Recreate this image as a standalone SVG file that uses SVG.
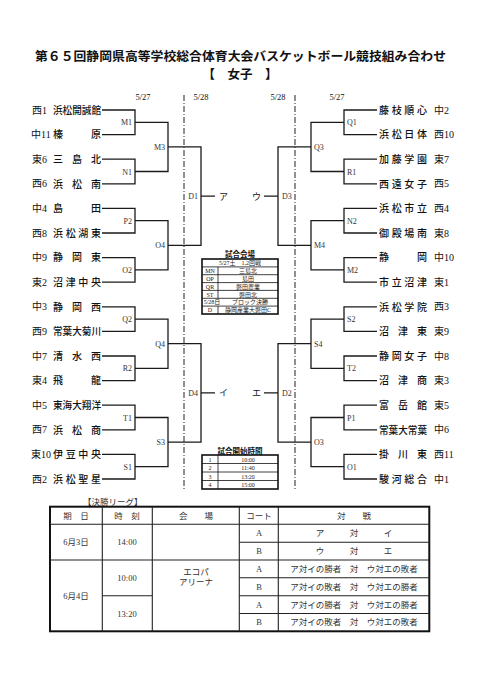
<svg xmlns="http://www.w3.org/2000/svg" width="481" height="680" viewBox="0 0 481 680">
<style>
text{font-family:"Liberation Serif","Noto Sans CJK JP",serif;fill:#111}
.title{font-family:"Noto Sans CJK JP",sans-serif;font-size:12.5px;font-weight:bold}
.date{font-size:8.5px;text-anchor:middle}
.nm{font-family:"Noto Sans CJK JP",sans-serif;font-size:10px;font-weight:500}
.pf{font-family:"Liberation Serif","Noto Sans CJK JP",serif;font-size:10px}
.lb{font-family:"Liberation Serif",serif;font-size:8px;fill:#333}
.le{text-anchor:end}
.kk{font-family:"Noto Sans CJK JP",sans-serif;font-size:9px}
.t6{font-family:"Liberation Serif","Noto Sans CJK JP",serif;font-size:6px;text-anchor:middle;fill:#222}
.tt{font-family:"Noto Sans CJK JP",sans-serif;font-size:7.5px;font-weight:bold;text-anchor:middle}
.t8{font-family:"Liberation Serif","Noto Sans CJK JP",serif;font-size:8.5px;text-anchor:middle;fill:#333}
.br{fill:none;stroke:#1a1a1a;stroke-width:1.3}
.dash{stroke:#222;stroke-width:1;stroke-dasharray:6 2 1 2;fill:none}
.tb{fill:none;stroke:#111;stroke-width:1.6}
.tl{fill:none;stroke:#111;stroke-width:0.8}
.fb{fill:none;stroke:#111;stroke-width:2}
.fl{fill:none;stroke:#222;stroke-width:1.1}
</style>

<g id="title">
<text class="title" x="35" y="61" textLength="411" lengthAdjust="spacingAndGlyphs">第６５回静岡県高等学校総合体育大会バスケットボール競技組み合わせ</text>
<text class="title" x="240" y="78.5" text-anchor="middle">【　女子　】</text>
</g>

<g id="dates">
<text class="date" x="143" y="100">5/27</text>
<text class="date" x="201" y="100">5/28</text>
<text class="date" x="278" y="100">5/28</text>
<text class="date" x="337" y="100">5/27</text>
</g>

<g id="day-dividers">
<line class="dash" x1="184" y1="95" x2="184" y2="489"/>
<line class="dash" x1="295" y1="95" x2="295" y2="489"/>
</g>

<g id="connectors">
<path class="br" d="M102,110H135V134.6H102M102,159.2H135V183.8H102M102,208.4H135V233H102M102,257.6H135V282.2H102M102,306.8H135V331.4H102M102,356H135V380.6H102M102,405.2H135V429.8H102M102,454.4H135V479H102"/>
<path class="br" d="M135,122.3H168V171.5H135M135,220.7H168V269.9H135M135,319.1H168V368.3H135M135,417.5H168V466.7H135"/>
<path class="br" d="M168,146.9H201V245.3H168M168,343.7H201V442.1H168"/>
<path class="br" d="M201,196.1H215M201,392.9H215"/>
<path class="br" d="M377,110H344V134.6H377M377,159.2H344V183.8H377M377,208.4H344V233H377M377,257.6H344V282.2H377M377,306.8H344V331.4H377M377,356H344V380.6H377M377,405.2H344V429.8H377M377,454.4H344V479H377"/>
<path class="br" d="M344,122.3H311V171.5H344M344,220.7H311V269.9H344M344,319.1H311V368.3H344M344,417.5H311V466.7H344"/>
<path class="br" d="M311,146.9H278V245.3H311M311,343.7H278V442.1H311"/>
<path class="br" d="M278,196.1H264M278,392.9H264"/>
</g>

<g id="left-teams">
<g id="L01"><text class="pf" x="32" y="113.5">西1</text><text class="nm" x="53" y="113.7" textLength="48" lengthAdjust="spacingAndGlyphs">浜松開誠館</text></g>
<g id="L02"><text class="pf" x="31" y="138.1">中11</text><text class="nm" x="53" y="138.3" textLength="48" lengthAdjust="spacing">榛原</text></g>
<g id="L03"><text class="pf" x="32" y="162.7">東6</text><text class="nm" x="53" y="162.9" textLength="48" lengthAdjust="spacing">三島北</text></g>
<g id="L04"><text class="pf" x="32" y="187.3">西6</text><text class="nm" x="53" y="187.5" textLength="48" lengthAdjust="spacing">浜松南</text></g>
<g id="L05"><text class="pf" x="32" y="211.9">中4</text><text class="nm" x="53" y="212.1" textLength="48" lengthAdjust="spacing">島田</text></g>
<g id="L06"><text class="pf" x="32" y="236.5">西8</text><text class="nm" x="53" y="236.7" textLength="48" lengthAdjust="spacing">浜松湖東</text></g>
<g id="L07"><text class="pf" x="32" y="261.1">中9</text><text class="nm" x="53" y="261.3" textLength="48" lengthAdjust="spacing">静岡東</text></g>
<g id="L08"><text class="pf" x="32" y="285.7">東2</text><text class="nm" x="53" y="285.9" textLength="48" lengthAdjust="spacing">沼津中央</text></g>
<g id="L09"><text class="pf" x="32" y="310.3">中3</text><text class="nm" x="53" y="310.5" textLength="48" lengthAdjust="spacing">静岡西</text></g>
<g id="L10"><text class="pf" x="32" y="334.9">西9</text><text class="nm" x="53" y="335.1" textLength="48" lengthAdjust="spacingAndGlyphs">常葉大菊川</text></g>
<g id="L11"><text class="pf" x="32" y="359.5">中7</text><text class="nm" x="53" y="359.7" textLength="48" lengthAdjust="spacing">清水西</text></g>
<g id="L12"><text class="pf" x="32" y="384.1">東4</text><text class="nm" x="53" y="384.3" textLength="48" lengthAdjust="spacing">飛龍</text></g>
<g id="L13"><text class="pf" x="32" y="408.7">中5</text><text class="nm" x="53" y="408.9" textLength="48" lengthAdjust="spacingAndGlyphs">東海大翔洋</text></g>
<g id="L14"><text class="pf" x="32" y="433.3">西7</text><text class="nm" x="53" y="433.5" textLength="48" lengthAdjust="spacing">浜松商</text></g>
<g id="L15"><text class="pf" x="31" y="457.9">東10</text><text class="nm" x="53" y="458.1" textLength="48" lengthAdjust="spacing">伊豆中央</text></g>
<g id="L16"><text class="pf" x="32" y="482.5">西2</text><text class="nm" x="53" y="482.7" textLength="48" lengthAdjust="spacing">浜松聖星</text></g>
</g>

<g id="right-teams">
<g id="R01"><text class="nm" x="379" y="113.7" textLength="48" lengthAdjust="spacing">藤枝順心</text><text class="pf" x="434" y="113.5">中2</text></g>
<g id="R02"><text class="nm" x="379" y="138.3" textLength="48" lengthAdjust="spacing">浜松日体</text><text class="pf" x="434" y="138.1">西10</text></g>
<g id="R03"><text class="nm" x="379" y="162.9" textLength="48" lengthAdjust="spacing">加藤学園</text><text class="pf" x="434" y="162.7">東7</text></g>
<g id="R04"><text class="nm" x="379" y="187.5" textLength="48" lengthAdjust="spacing">西遠女子</text><text class="pf" x="434" y="187.3">西5</text></g>
<g id="R05"><text class="nm" x="379" y="212.1" textLength="48" lengthAdjust="spacing">浜松市立</text><text class="pf" x="434" y="211.9">西4</text></g>
<g id="R06"><text class="nm" x="379" y="236.7" textLength="48" lengthAdjust="spacing">御殿場南</text><text class="pf" x="434" y="236.5">東8</text></g>
<g id="R07"><text class="nm" x="379" y="261.3" textLength="48" lengthAdjust="spacing">静岡</text><text class="pf" x="434" y="261.1">中10</text></g>
<g id="R08"><text class="nm" x="379" y="285.9" textLength="48" lengthAdjust="spacing">市立沼津</text><text class="pf" x="434" y="285.7">東1</text></g>
<g id="R09"><text class="nm" x="379" y="310.5" textLength="48" lengthAdjust="spacing">浜松学院</text><text class="pf" x="434" y="310.3">西3</text></g>
<g id="R10"><text class="nm" x="379" y="335.1" textLength="48" lengthAdjust="spacing">沼津東</text><text class="pf" x="434" y="334.9">東9</text></g>
<g id="R11"><text class="nm" x="379" y="359.7" textLength="48" lengthAdjust="spacing">静岡女子</text><text class="pf" x="434" y="359.5">中8</text></g>
<g id="R12"><text class="nm" x="379" y="384.3" textLength="48" lengthAdjust="spacing">沼津商</text><text class="pf" x="434" y="384.1">東3</text></g>
<g id="R13"><text class="nm" x="379" y="408.9" textLength="48" lengthAdjust="spacing">富岳館</text><text class="pf" x="434" y="408.7">東5</text></g>
<g id="R14"><text class="nm" x="379" y="433.5" textLength="48" lengthAdjust="spacingAndGlyphs">常葉大常葉</text><text class="pf" x="434" y="433.3">中6</text></g>
<g id="R15"><text class="nm" x="379" y="458.1" textLength="48" lengthAdjust="spacing">掛川東</text><text class="pf" x="434" y="457.9">西11</text></g>
<g id="R16"><text class="nm" x="379" y="482.7" textLength="48" lengthAdjust="spacing">駿河総合</text><text class="pf" x="434" y="482.5">中1</text></g>
</g>

<g id="left-matches">
<text id="M1" class="lb le" x="132" y="125.3">M1</text>
<text id="N1" class="lb le" x="132" y="174.5">N1</text>
<text id="P2" class="lb le" x="132" y="223.7">P2</text>
<text id="O2" class="lb le" x="132" y="272.9">O2</text>
<text id="Q2" class="lb le" x="132" y="322.1">Q2</text>
<text id="R2" class="lb le" x="132" y="371.3">R2</text>
<text id="T1" class="lb le" x="132" y="420.5">T1</text>
<text id="S1" class="lb le" x="132" y="469.7">S1</text>
<text id="M3" class="lb le" x="165" y="149.9">M3</text>
<text id="O4" class="lb le" x="165" y="248.3">O4</text>
<text id="Q4" class="lb le" x="165" y="346.7">Q4</text>
<text id="S3" class="lb le" x="165" y="445.1">S3</text>
<text id="D1" class="lb le" x="198" y="199.1">D1</text>
<text id="D4" class="lb le" x="198" y="395.9">D4</text>
</g>

<g id="right-matches">
<text id="Q1" class="lb" x="347" y="125.3">Q1</text>
<text id="R1" class="lb" x="347" y="174.5">R1</text>
<text id="N2" class="lb" x="347" y="223.7">N2</text>
<text id="M2" class="lb" x="347" y="272.9">M2</text>
<text id="S2" class="lb" x="347" y="322.1">S2</text>
<text id="T2" class="lb" x="347" y="371.3">T2</text>
<text id="P1" class="lb" x="347" y="420.5">P1</text>
<text id="O1" class="lb" x="347" y="469.7">O1</text>
<text id="Q3" class="lb" x="314" y="149.9">Q3</text>
<text id="M4" class="lb" x="314" y="248.3">M4</text>
<text id="S4" class="lb" x="314" y="346.7">S4</text>
<text id="O3" class="lb" x="314" y="445.1">O3</text>
<text id="D3" class="lb" x="282" y="199.1">D3</text>
<text id="D2" class="lb" x="282" y="395.9">D2</text>
</g>

<g id="block-winners">
<text id="a" class="kk" x="219" y="199.5">ア</text>
<text id="i" class="kk" x="219" y="396.3">イ</text>
<text id="u" class="kk" x="252" y="199.5">ウ</text>
<text id="e" class="kk" x="252" y="396.3">エ</text>
</g>

<g id="venue-table">
<text class="tt" x="240" y="257">試合会場</text>
<rect class="tb" x="202" y="259" width="76" height="55"/>
<path class="tl" d="M202,266.9H278M202,274.7H278M202,282.6H278M202,290.4H278M202,298.3H278M202,306.1H278M218,266.9V298.3M218,306.1V314"/>
<text class="t6" x="240" y="265">5/27土　1,2回戦</text>
<text class="t6" x="210" y="272.9">MN</text><text class="t6" x="248" y="272.9">三島北</text>
<text class="t6" x="210" y="280.8">OP</text><text class="t6" x="248" y="280.8">島田</text>
<text class="t6" x="210" y="288.6">QR</text><text class="t6" x="248" y="288.6">磐田農業</text>
<text class="t6" x="210" y="296.5">ST</text><text class="t6" x="248" y="296.5">磐田北</text>
<text class="t6" x="212" y="304.3">5/28日</text><text class="t6" x="250" y="304.3">ブロック決勝</text>
<text class="t6" x="210" y="312.2">D</text><text class="t6" x="248" y="312.2">静岡産業大磐田C</text>
</g>

<g id="time-table">
<text class="tt" x="240" y="453.5">試合開始時間</text>
<rect class="tb" x="202" y="455" width="76" height="34"/>
<path class="tl" d="M202,463.5H278M202,472H278M202,480.5H278M218,455V489"/>
<text class="t6" x="210" y="461.5">1</text><text class="t6" x="248" y="461.5">10:00</text>
<text class="t6" x="210" y="470">2</text><text class="t6" x="248" y="470">11:40</text>
<text class="t6" x="210" y="478.5">3</text><text class="t6" x="248" y="478.5">13:20</text>
<text class="t6" x="210" y="487">4</text><text class="t6" x="248" y="487">15:00</text>
</g>

<g id="final-league">
<text class="kk" x="83" y="505" style="font-size:8.5px;fill:#333">【決勝リーグ】</text>
<rect class="fb" x="50" y="506.7" width="379.3" height="124.6"/>
<path class="fl" d="M102.3,506.7V631.3M152.3,506.7V631.3M239.3,506.7V631.3M278.3,506.7V631.3"/>
<path class="fl" d="M50,524.3H429.3M50,560H239.3M102.3,595.7H152.3M239.3,542.2H429.3M239.3,560H429.3M239.3,577.8H429.3M239.3,595.7H429.3M239.3,613.5H429.3"/>
<text class="t8" x="76" y="518.5">期　日</text>
<text class="t8" x="127" y="518.5">時　刻</text>
<text class="t8" x="196" y="518.5">会　　場</text>
<text class="t8" x="259" y="518.5">コート</text>
<text class="t8" x="354" y="518.5">対　　戦</text>
<text class="t8" x="76" y="545">6月3日</text>
<text class="t8" x="127" y="545">14:00</text>
<text class="t8" x="76" y="598.7">6月4日</text>
<text class="t8" x="127" y="580.8">10:00</text>
<text class="t8" x="127" y="616.5">13:20</text>
<text class="t8" x="196" y="574.5">エコパ</text>
<text class="t8" x="196" y="584.5">アリーナ</text>
<text class="t8" x="259" y="536.2">A</text>
<text class="t8" x="259" y="554">B</text>
<text class="t8" x="259" y="571.8">A</text>
<text class="t8" x="259" y="589.7">B</text>
<text class="t8" x="259" y="607.5">A</text>
<text class="t8" x="259" y="625.3">B</text>
<text class="t8" x="354" y="536.2">ア　　　対　　　イ</text>
<text class="t8" x="354" y="554">ウ　　　対　　　エ</text>
<text class="t8" x="354" y="571.8">ア対イの勝者　対　ウ対エの敗者</text>
<text class="t8" x="354" y="589.7">ア対イの敗者　対　ウ対エの勝者</text>
<text class="t8" x="354" y="607.5">ア対イの勝者　対　ウ対エの勝者</text>
<text class="t8" x="354" y="625.3">ア対イの敗者　対　ウ対エの敗者</text>
</g>
</svg>
